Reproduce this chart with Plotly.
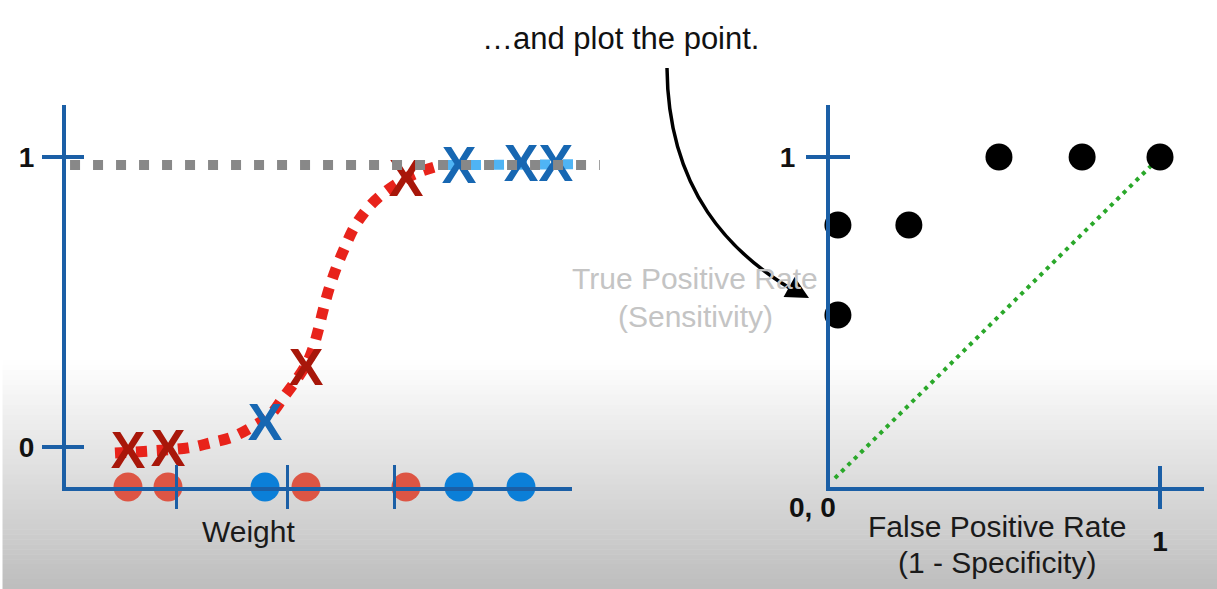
import plotly.graph_objects as go

W, H = 1217, 589

# ---------------- data ----------------
# left panel: weights of samples (x) and their class
red_weights = [1.225, 2.016, 4.743, 6.719]
blue_weights = [3.933, 7.767, 8.992]
thresholds = [2.19, 4.37, 6.50]

# X markers (classified positions on logistic curve)
red_x_w = [1.225, 2.016, 4.743, 6.719]
red_x_p = [-0.010, -0.003, 0.276, 0.928]
blue_x_w = [3.933, 7.767, 8.992, 9.68]
blue_x_p = [0.086, 0.972, 0.979, 0.979]

# logistic curve
curve_w = [0.968, 1.660, 2.411, 2.846, 3.281, 3.676, 4.032, 4.289, 4.545, 4.763, 4.881,
           4.980, 5.079, 5.198, 5.336, 5.514, 5.711, 5.988, 6.304, 6.660, 6.976, 7.292]
curve_p = [-0.021, -0.014, -0.003, 0.014, 0.034, 0.069, 0.110, 0.169, 0.230, 0.290, 0.340,
           0.400, 0.470, 0.545, 0.615, 0.690, 0.762, 0.828, 0.879, 0.921, 0.948, 0.966]
blue_curve_w = [7.55, 10.1]
blue_curve_p = [0.972, 0.975]

guide_w = [0.0, 10.55]
guide_p = [0.972, 0.972]

# right panel: ROC points
fpr = [0.512, 0.764, 1.0, 0.024, 0.239, 0.024]
tpr = [1.0, 1.0, 1.0, 0.794, 0.794, 0.521]
diag_x = [0.015, 0.99]
diag_y = [0.027, 0.99]

left_yticks = [0, 1]
left_yticktext = ["0", "1"]
right_ticks = [1]
right_ticktext = ["1"]

# ---------------- styling ----------------
AXC = "#1b5fa6"
AXW = 4
FONT = "Liberation Sans"
RED_X = "#a8170a"
BLUE_X = "#1767b2"
RED_C = "#dd5544"
BLUE_C = "#0b7fd8"
X_GLYPH_SHIFT = 0.017   # the "X" glyph sits slightly high when centred; nudge it down


def px(x):
    return x / W


def py(y):
    return 1 - y / H


# left panel geometry (pixels)
L_X0, L_X1, L_XEXT = 66, 572, 612
L_Y0, L_Y1 = 487, 105
L_PXU = 50.6          # px per weight unit
L_ZERO, L_ONE = 447, 157
L_YMIN = -(L_Y0 - L_ZERO) / (L_ZERO - L_ONE)
L_YMAX = (L_ZERO - L_Y1) / (L_ZERO - L_ONE)

R_X0, R_X1 = 830, 1204
R_Y0, R_Y1 = 487, 105
R_U = 330

fig = go.Figure()

# left traces
fig.add_trace(go.Scatter(x=curve_w, y=curve_p, mode="lines", line=dict(color="#e8231b", width=11, dash="11px,10px", shape="spline"),
                         xaxis="x", yaxis="y", hoverinfo="skip"))
fig.add_trace(go.Scatter(x=blue_curve_w, y=blue_curve_p, mode="lines", line=dict(color="#4fb4f5", width=10, dash="10px,13px"),
                         xaxis="x", yaxis="y", hoverinfo="skip"))
fig.add_trace(go.Scatter(x=red_x_w, y=[p - X_GLYPH_SHIFT for p in red_x_p], mode="text", text=["X"] * len(red_x_w),
                         textfont=dict(family=FONT, size=52, color=RED_X, weight="bold"),
                         xaxis="x", yaxis="y", cliponaxis=False, hoverinfo="skip"))
fig.add_trace(go.Scatter(x=blue_x_w, y=[p - X_GLYPH_SHIFT for p in blue_x_p], mode="text", text=["X"] * len(blue_x_w),
                         textfont=dict(family=FONT, size=52, color=BLUE_X, weight="bold"),
                         xaxis="x", yaxis="y", cliponaxis=False, hoverinfo="skip"))
fig.add_trace(go.Scatter(x=[guide_w[0] + 0.08, guide_w[1]], y=guide_p, mode="lines",
                         line=dict(color="#888888", width=10, dash="10px,13px"),
                         xaxis="x", yaxis="y", hoverinfo="skip"))
fig.add_trace(go.Scatter(x=red_weights, y=[L_YMIN] * len(red_weights), mode="markers",
                         marker=dict(color=RED_C, size=29), xaxis="x", yaxis="y", cliponaxis=False, hoverinfo="skip"))
fig.add_trace(go.Scatter(x=blue_weights, y=[L_YMIN] * len(blue_weights), mode="markers",
                         marker=dict(color=BLUE_C, size=29), xaxis="x", yaxis="y", cliponaxis=False, hoverinfo="skip"))

# right traces
fig.add_trace(go.Scatter(x=diag_x, y=diag_y, mode="lines", line=dict(color="#2aa82a", width=4, dash="4px,5px"),
                         xaxis="x2", yaxis="y2", hoverinfo="skip"))
fig.add_trace(go.Scatter(x=fpr, y=tpr, mode="markers", marker=dict(color="black", size=27),
                         xaxis="x2", yaxis="y2", cliponaxis=False, hoverinfo="skip"))

# empty traces so that the axis-only subplots (axis lines / crossing ticks) get drawn
for xa, ya in [("x3", "y"), ("x4", "y"), ("x", "y3"), ("x5", "y2"), ("x2", "y4")]:
    fig.add_trace(go.Scatter(x=[None], y=[None], mode="markers", xaxis=xa, yaxis=ya, hoverinfo="skip"))

tickfont = dict(family=FONT, size=28, color="#111111", weight="bold")
common = dict(showgrid=False, zeroline=False, fixedrange=True)

ly_dom = [py(L_Y0), py(L_Y1)]
fig.update_layout(
    width=W, height=H, margin=dict(l=0, r=0, t=0, b=0),
    paper_bgcolor="white", plot_bgcolor="rgba(0,0,0,0)", showlegend=False,
    xaxis=dict(domain=[px(L_X0), px(L_XEXT)], range=[0, (L_XEXT - L_X0) / L_PXU], visible=False, anchor="y", **common),
    yaxis=dict(domain=ly_dom, range=[L_YMIN, L_YMAX], anchor="x", showline=True, linecolor=AXC, linewidth=AXW,
               ticks="outside", ticklen=20, tickwidth=AXW, tickcolor=AXC, tickvals=left_yticks, ticktext=left_yticktext,
               tickfont=tickfont, ticklabelstandoff=2, **common),
    xaxis3=dict(domain=[px(L_X0), px(L_X1)], range=[0, (L_X1 - L_X0) / L_PXU], anchor="y", showline=True, linecolor=AXC,
                linewidth=AXW, ticks="outside", ticklen=18, tickwidth=3, tickcolor=AXC, tickvals=thresholds,
                showticklabels=False, **common),
    xaxis4=dict(overlaying="x3", range=[0, (L_X1 - L_X0) / L_PXU], anchor="y", showline=False, ticks="inside", ticklen=22,
                tickwidth=3, tickcolor=AXC, tickvals=thresholds, showticklabels=False, **common),
    yaxis3=dict(overlaying="y", range=[L_YMIN, L_YMAX], anchor="x", showline=False, ticks="inside", ticklen=18,
                tickwidth=AXW, tickcolor=AXC, tickvals=left_yticks, showticklabels=False, **common),
    xaxis2=dict(domain=[px(R_X0), px(R_X1)], range=[0, (R_X1 - R_X0) / R_U], anchor="y2", showline=True, linecolor=AXC,
                linewidth=AXW, ticks="outside", ticklen=18, tickwidth=AXW, tickcolor=AXC, tickvals=right_ticks,
                ticktext=right_ticktext, tickfont=tickfont, ticklabelstandoff=8, **common),
    yaxis2=dict(domain=[py(R_Y0), py(R_Y1)], range=[0, (R_Y0 - R_Y1) / R_U], anchor="x2", showline=True, linecolor=AXC,
                linewidth=AXW, ticks="outside", ticklen=20, tickwidth=AXW, tickcolor=AXC, tickvals=right_ticks,
                ticktext=right_ticktext, tickfont=tickfont, ticklabelstandoff=5, **common),
    xaxis5=dict(overlaying="x2", range=[0, (R_X1 - R_X0) / R_U], anchor="y2", showline=False, ticks="inside", ticklen=21,
                tickwidth=AXW, tickcolor=AXC, tickvals=right_ticks, showticklabels=False, **common),
    yaxis4=dict(overlaying="y2", range=[0, (R_Y0 - R_Y1) / R_U], anchor="x2", showline=False, ticks="inside", ticklen=20,
                tickwidth=AXW, tickcolor=AXC, tickvals=right_ticks, showticklabels=False, **common),
)

# background gradient at the bottom
shapes = []
G_TOP = 360
N = 46
for i in range(N):
    y0 = G_TOP + i * (H - G_TOP) / N
    y1 = G_TOP + (i + 1) * (H - G_TOP) / N + 0.6
    t = (i + 0.5) / N
    c = int(round(255 - (255 - 189) * t))
    shapes.append(dict(type="rect", xref="paper", yref="paper", x0=0, x1=1, y0=max(0, py(y1)), y1=py(y0),
                       fillcolor=f"rgb({c},{c},{c})", line=dict(width=0), layer="below"))
shapes.append(dict(type="rect", xref="paper", yref="paper", x0=0, x1=px(2.5), y0=0, y1=1,
                   fillcolor="white", line=dict(width=0), layer="below"))

# curved arrow
P0, P1, P2, P3 = (667, 68), (668, 190), (730, 255), (800, 294)
path = (f"M {px(P0[0])},{py(P0[1])} C {px(P1[0])},{py(P1[1])} {px(P2[0])},{py(P2[1])} "
        f"{px(P3[0])},{py(P3[1])}")
shapes.append(dict(type="path", xref="paper", yref="paper", path=path, line=dict(color="black", width=3.5), layer="above"))
fig.update_layout(shapes=shapes)

ann = []
ann.append(dict(xref="paper", yref="paper", x=px(809), y=py(298), ax=-18, ay=-10, text="", showarrow=True,
                arrowhead=2, arrowsize=1.3, arrowwidth=3.5, arrowcolor="black", standoff=0))


def label(text, x, y, size=30, color="#1a1a1a", weight="normal"):
    ann.append(dict(xref="paper", yref="paper", x=px(x), y=py(y), text=text, showarrow=False,
                    xanchor="center", yanchor="middle",
                    font=dict(family=FONT, size=size, color=color, weight=weight)))


label("…and plot the point.", 620, 39, size=31, color="#111111")
label("True Positive Rate", 695, 279, size=30, color="#c4c4c4")
label("(Sensitivity)", 695, 316, size=30, color="#c4c4c4")
label("Weight", 248, 531, size=30)
label("False Positive Rate", 997, 526, size=30)
label("(1 - Specificity)", 997, 562, size=30)
ann.append(dict(xref="x2", yref="y2", x=0, y=0, text="0, 0", showarrow=False, xanchor="center", yanchor="middle",
                xshift=-18, yshift=-20, font=tickfont))
fig.update_layout(annotations=ann)

# remove the default page margin so the figure fills the window exactly
fig.write_html("out.html", config={"displayModeBar": False, "staticPlot": True},
               post_script="document.body.style.margin='0';document.body.style.overflow='hidden';")
